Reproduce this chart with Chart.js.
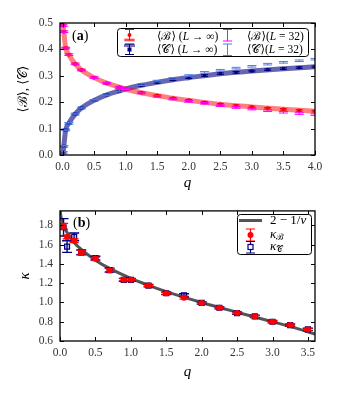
<!DOCTYPE html>
<html>
<head>
<meta charset="utf-8">
<script src="https://cdn.jsdelivr.net/npm/chart.js@4.4.1/dist/chart.umd.min.js"></script>
<style>
html, body { margin: 0; padding: 0; background: #fff; }
#wrap { position: relative; width: 341px; height: 395px; }
#chartA { position: absolute; left: 0; top: 0; }
#chartB { position: absolute; left: 0; top: 197px; }
</style>
</head>
<body>
<div id="wrap">
  <canvas id="chartA" width="341" height="197"></canvas>
  <canvas id="chartB" width="341" height="198"></canvas>
</div>
<script>
const SERIF = "'Liberation Serif', 'DejaVu Serif', serif";

// panel (a): mean values of B and C vs q
const qA = [0.01, 0.02, 0.05, 0.1, 0.2, 0.3, 0.5, 0.7, 0.9, 1.0, 1.25, 1.5, 1.75, 2.0, 2.25, 2.5, 2.75, 3.0, 3.25, 3.5, 3.75, 4.0];
const bInf = [0.490, 0.467, 0.405, 0.380, 0.345, 0.322, 0.293, 0.272, 0.257, 0.250, 0.236, 0.225, 0.215, 0.207, 0.199, 0.192, 0.187, 0.182, 0.177, 0.173, 0.169, 0.166];
const cInf = [0.010, 0.033, 0.095, 0.120, 0.155, 0.178, 0.207, 0.228, 0.243, 0.250, 0.264, 0.275, 0.285, 0.293, 0.301, 0.308, 0.313, 0.318, 0.323, 0.327, 0.331, 0.334];
const b32 = [0.490, 0.467, 0.405, 0.380, 0.345, 0.322, 0.293, 0.272, 0.256, 0.249, 0.235, 0.222, 0.212, 0.203, 0.196, 0.187, 0.180, 0.174, 0.168, 0.162, 0.157, 0.153];
const c32 = [0.010, 0.033, 0.095, 0.120, 0.155, 0.178, 0.207, 0.228, 0.244, 0.251, 0.266, 0.280, 0.290, 0.301, 0.313, 0.321, 0.329, 0.336, 0.344, 0.351, 0.357, 0.363];
const errInf = 0.003;
const err32 = 0.003;
// thick curves (L -> inf)
const qCurve = [0, 0.01, 0.02, 0.05, 0.1, 0.2, 0.3, 0.5, 0.7, 0.9, 1.0, 1.25, 1.5, 1.75, 2.0, 2.5, 3.0, 3.5, 4.0];
const bCurve = [0.500, 0.490, 0.467, 0.405, 0.380, 0.345, 0.322, 0.293, 0.272, 0.257, 0.250, 0.236, 0.225, 0.215, 0.207, 0.192, 0.182, 0.173, 0.166];
const cCurve = [0.000, 0.010, 0.033, 0.095, 0.120, 0.155, 0.178, 0.207, 0.228, 0.243, 0.250, 0.264, 0.275, 0.285, 0.293, 0.308, 0.318, 0.327, 0.334];
const xTicksA = [0, 0.5, 1, 1.5, 2, 2.5, 3, 3.5, 4];
const yTicksA = [0, 0.1, 0.2, 0.3, 0.4, 0.5];

// panel (b): kappa vs q
const qB = [0.05, 0.1, 0.2, 0.3, 0.5, 0.7, 0.9, 1.0, 1.25, 1.5, 1.75, 2.0, 2.25, 2.5, 2.75, 3.0, 3.25, 3.5];
const kB = [1.79, 1.68, 1.64, 1.52, 1.455, 1.335, 1.235, 1.235, 1.175, 1.095, 1.05, 0.995, 0.945, 0.89, 0.855, 0.80, 0.765, 0.72];
const kBerr = [0.03, 0.02, 0.02, 0.02, 0.015, 0.015, 0.012, 0.012, 0.01, 0.01, 0.015, 0.01, 0.01, 0.01, 0.01, 0.01, 0.01, 0.01];
const kC = [1.78, 1.58, 1.68, 1.52, 1.46, 1.335, 1.235, 1.235, 1.175, 1.095, 1.075, 0.995, 0.945, 0.89, 0.855, 0.80, 0.765, 0.72];
const kCerr = [0.09, 0.06, 0.04, 0.025, 0.02, 0.02, 0.015, 0.015, 0.012, 0.012, 0.015, 0.012, 0.012, 0.012, 0.012, 0.012, 0.012, 0.012];
const qNu = [0, 0.005, 0.01, 0.02, 0.05, 0.1, 0.2, 0.3, 0.5, 0.7, 1.0, 1.25, 1.5, 2.0, 2.5, 3.0, 3.5, 3.6];
const kNu = [2.0, 1.934, 1.907, 1.871, 1.800, 1.725, 1.623, 1.550, 1.439, 1.353, 1.25, 1.178, 1.113, 1.0, 0.898, 0.80, 0.696, 0.671];
const xTicksB = [0, 0.5, 1, 1.5, 2, 2.5, 3, 3.5];
const yTicksB = [0.6, 0.8, 1.0, 1.2, 1.4, 1.6, 1.8];

const pts = (xs, ys) => xs.map((x, i) => ({ x: x, y: ys[i] }));

// text made of pieces in different fonts: [text, font, dy]
function drawRich(ctx, parts, x, y, align) {
    let w = 0;
    parts.forEach(p => { ctx.font = p[1]; w += ctx.measureText(p[0]).width; });
    let cx = align === 'center' ? x - w / 2 : (align === 'right' ? x - w : x);
    ctx.textAlign = 'left';
    ctx.textBaseline = 'middle';
    parts.forEach(p => {
        ctx.font = p[1];
        ctx.fillText(p[0], cx, y + (p[2] || 0));
        cx += ctx.measureText(p[0]).width;
    });
}

function errGlyph(ctx, x, y0, y1, cap, color, lw) {
    ctx.strokeStyle = color;
    ctx.lineWidth = lw || 1;
    ctx.beginPath();
    ctx.moveTo(x, y0); ctx.lineTo(x, y1);
    ctx.moveTo(x - cap, y0); ctx.lineTo(x + cap, y0);
    ctx.moveTo(x - cap, y1); ctx.lineTo(x + cap, y1);
    ctx.stroke();
}

const framePlugin = {
    id: 'frame',
    beforeDatasetDraw(chart, args) {
        const ds = chart.data.datasets[args.index];
        if (!ds.errs) return;
        const ctx = chart.ctx, a = chart.chartArea;
        const xs = chart.scales.x, ys = chart.scales.y;
        ctx.save();
        ctx.beginPath();
        ctx.rect(a.left, a.top, a.right - a.left, a.bottom - a.top);
        ctx.clip();
        ds.data.forEach((p, i) => {
            const px = xs.getPixelForValue(p.x);
            errGlyph(ctx, px, ys.getPixelForValue(p.y - ds.errs[i]), ys.getPixelForValue(p.y + ds.errs[i]),
                ds.capW, ds.errColor, ds.errWidth);
        });
        ctx.restore();
    },
    afterDraw(chart, args, opts) {
        const ctx = chart.ctx, a = chart.chartArea;
        ctx.save();
        // inward ticks on all four sides
        ctx.strokeStyle = '#000';
        ctx.lineWidth = 1;
        ctx.beginPath();
        chart.scales.x.ticks.forEach(t => {
            const px = Math.round(chart.scales.x.getPixelForValue(t.value)) + 0.5;
            ctx.moveTo(px, a.bottom); ctx.lineTo(px, a.bottom - 4);
            ctx.moveTo(px, a.top); ctx.lineTo(px, a.top + 4);
        });
        chart.scales.y.ticks.forEach(t => {
            const py = Math.round(chart.scales.y.getPixelForValue(t.value)) + 0.5;
            ctx.moveTo(a.left, py); ctx.lineTo(a.left + 4, py);
            ctx.moveTo(a.right, py); ctx.lineTo(a.right - 4, py);
        });
        ctx.stroke();
        ctx.lineWidth = 1.3;
        ctx.strokeRect(a.left, a.top, a.right - a.left, a.bottom - a.top);
        ctx.fillStyle = '#000';
        if (opts.extra) opts.extra(ctx, a);
        ctx.restore();
    }
};

function axisOpts(min, max, tickVals, dec, side) {
    return {
        type: 'linear',
        min: min,
        max: max,
        grid: { display: false, drawTicks: false },
        border: { display: false },
        afterBuildTicks: s => { s.ticks = tickVals.map(v => ({ value: v })); },
        afterFit: s => { if (side === 'y') s.width = 60; },
        ticks: {
            color: '#333',
            font: { family: SERIF, size: 11.5 },
            padding: side === 'y' ? 7 : 5,
            callback: v => v.toFixed(dec)
        }
    };
}

// ---------- panel (a) ----------
const ctxA = document.getElementById('chartA').getContext('2d');
const optA = {
    responsive: false,
    animation: false,
    layout: { padding: { left: 0, right: 26, top: 23, bottom: 0 } },
    plugins: {
        legend: { display: false },
        tooltip: { enabled: false },
        frame: {
            extra: (ctx, a) => {
                // axis titles
                drawRich(ctx, [['q', 'italic 15px ' + SERIF]], (a.left + a.right) / 2, 183, 'center');
                ctx.save();
                ctx.translate(24, (a.top + a.bottom) / 2);
                ctx.rotate(-Math.PI / 2);
                drawRich(ctx, [['\u27E8', '13px ' + SERIF], ['\u212C', '13px ' + SERIF], ['\u27E9, \u27E8', '13px ' + SERIF],
                    ['\uD835\uDC9E', '13px ' + SERIF], ['\u27E9', '13px ' + SERIF]], 0, 0, 'center');
                ctx.restore();
                // panel label
                drawRich(ctx, [['(', '14px ' + SERIF], ['a', 'bold 14px ' + SERIF], [')', '14px ' + SERIF]], 72, 36, 'left');
                // legend
                ctx.fillStyle = '#fff';
                ctx.strokeStyle = '#000';
                ctx.lineWidth = 1;
                ctx.beginPath();
                ctx.roundRect(117.5, 28.5, 191, 28, 3);
                ctx.fill();
                ctx.stroke();
                ctx.fillStyle = 'rgba(255,0,0,0.45)';
                ctx.fillRect(124, 38.5, 11, 3);
                errGlyph(ctx, 129.5, 29.5, 40, 4.5, '#ff0000', 1);
                ctx.fillStyle = '#ff0000';
                ctx.beginPath(); ctx.arc(129.5, 35, 2, 0, Math.PI * 2); ctx.fill();
                ctx.fillStyle = 'rgba(0,0,128,0.55)';
                ctx.fillRect(124, 44, 11, 3);
                errGlyph(ctx, 129.5, 44, 54.5, 4.5, '#000080', 1);
                ctx.fillStyle = '#000080';
                ctx.fillRect(127.5, 47.5, 4, 4);
                errGlyph(ctx, 227.5, 29.5, 41, 4.5, '#ff00ff', 1);
                errGlyph(ctx, 227.5, 44, 55.5, 4.5, '#4f7fe8', 1);
                ctx.fillStyle = '#000';
                const f = '11.5px ' + SERIF, fi = 'italic 11.5px ' + SERIF;
                drawRich(ctx, [['\u27E8', f], ['\u212C', f], ['\u27E9 (', f], ['L', fi], [' \u2192 \u221E)', f]], 157, 37, 'left');
                drawRich(ctx, [['\u27E8', f], ['\uD835\uDC9E', f], ['\u27E9 (', f], ['L', fi], [' \u2192 \u221E)', f]], 157, 49.5, 'left');
                drawRich(ctx, [['\u27E8', f], ['\u212C', f], ['\u27E9(', f], ['L', fi], [' = 32)', f]], 247, 37, 'left');
                drawRich(ctx, [['\u27E8', f], ['\uD835\uDC9E', f], ['\u27E9(', f], ['L', fi], [' = 32)', f]], 247, 49.5, 'left');
            }
        }
    },
    scales: {
        x: Object.assign(axisOpts(-0.04, 4.0, xTicksA, 1, 'x'), { afterFit: s => { s.height = 42; } }),
        y: axisOpts(0, 0.5, yTicksA, 1, 'y')
    }
};

new Chart(ctxA, {
    type: 'scatter',
    data: {
        datasets: [
            { data: pts(qA, b32), pointStyle: 'line', pointRadius: 0, errs: qA.map(() => err32), capW: 4.5, errColor: '#ff00ff', errWidth: 1 },
            { data: pts(qA, c32), pointStyle: 'line', pointRadius: 0, errs: qA.map(() => err32), capW: 4.5, errColor: '#4f7fe8', errWidth: 1 },
            { data: pts(qA, bInf), pointStyle: 'circle', pointRadius: 2, backgroundColor: '#ff0000', borderWidth: 0,
              errs: qA.map(() => errInf), capW: 3.5, errColor: '#ff0000', errWidth: 1 },
            { data: pts(qA, cInf), pointStyle: 'rect', pointRadius: 2.2, backgroundColor: '#000080', borderWidth: 0,
              errs: qA.map(() => errInf), capW: 3.5, errColor: '#000080', errWidth: 1 },
            { data: pts(qCurve, bCurve), showLine: true, pointRadius: 0, borderColor: 'rgba(255,0,0,0.5)', borderWidth: 5,
              cubicInterpolationMode: 'monotone', clip: 0 },
            { data: pts(qCurve, cCurve), showLine: true, pointRadius: 0, borderColor: 'rgba(0,0,128,0.6)', borderWidth: 5,
              cubicInterpolationMode: 'monotone', clip: 0 }
        ]
    },
    options: optA,
    plugins: [framePlugin]
});

// ---------- panel (b) ----------
const ctxB = document.getElementById('chartB').getContext('2d');
const optB = {
    responsive: false,
    animation: false,
    layout: { padding: { left: 0, right: 26, top: 11, bottom: 0 } },
    plugins: {
        legend: { display: false },
        tooltip: { enabled: false },
        frame: {
            extra: (ctx, a) => {
                drawRich(ctx, [['q', 'italic 15px ' + SERIF]], (a.left + a.right) / 2, 175, 'center');
                ctx.save();
                ctx.translate(25, (a.top + a.bottom) / 2);
                ctx.rotate(-Math.PI / 2);
                drawRich(ctx, [['\u03BA', 'italic 15px ' + SERIF]], 0, 0, 'center');
                ctx.restore();
                drawRich(ctx, [['(', '14px ' + SERIF], ['b', 'bold 14px ' + SERIF], [')', '14px ' + SERIF]], 73, 26, 'left');
                // legend
                ctx.fillStyle = '#fff';
                ctx.strokeStyle = '#000';
                ctx.lineWidth = 1;
                ctx.beginPath();
                ctx.roundRect(237.5, 17.5, 74, 40, 3);
                ctx.fill();
                ctx.stroke();
                ctx.strokeStyle = '#555';
                ctx.lineWidth = 3;
                ctx.beginPath(); ctx.moveTo(239, 23.5); ctx.lineTo(262, 23.5); ctx.stroke();
                errGlyph(ctx, 250.5, 32, 44, 4.5, '#ff0000', 1.2);
                ctx.fillStyle = '#ff0000';
                ctx.beginPath(); ctx.arc(250.5, 38, 3, 0, Math.PI * 2); ctx.fill();
                errGlyph(ctx, 250.5, 44.5, 56, 4.5, '#000080', 1.2);
                ctx.fillStyle = '#fff';
                ctx.fillRect(248, 47.5, 5, 5);
                ctx.strokeStyle = '#000080';
                ctx.lineWidth = 1.2;
                ctx.strokeRect(248, 47.5, 5, 5);
                ctx.fillStyle = '#000';
                const f = '13px ' + SERIF, fi = 'italic 13px ' + SERIF;
                drawRich(ctx, [['2 \u2212 1/', f], ['\u03BD', fi]], 270, 23.5, 'left');
                drawRich(ctx, [['\u03BA', fi], ['\u212C', '9px ' + SERIF, 3]], 270, 37.5, 'left');
                drawRich(ctx, [['\u03BA', fi], ['\uD835\uDC9E', '9px ' + SERIF, 3]], 270, 50, 'left');
            }
        }
    },
    scales: {
        x: Object.assign(axisOpts(0, 3.6, xTicksB, 1, 'x'), { afterFit: s => { s.height = 54; } }),
        y: axisOpts(0.6, 1.95, yTicksB, 1, 'y')
    }
};

new Chart(ctxB, {
    type: 'scatter',
    data: {
        datasets: [
            { data: pts(qB, kB), pointStyle: 'circle', pointRadius: 3, backgroundColor: '#ff0000', borderWidth: 0,
              errs: kBerr, capW: 4.5, errColor: '#ff0000', errWidth: 1.2 },
            { data: pts(qB, kC), pointStyle: 'rect', pointRadius: 3.5, backgroundColor: 'rgba(70,70,210,0.35)', borderColor: '#000080', borderWidth: 1.2,
              errs: kCerr, capW: 5, errColor: '#000080', errWidth: 1.4 },
            { data: pts(qNu, kNu), showLine: true, pointRadius: 0, borderColor: '#555555', borderWidth: 3,
              cubicInterpolationMode: 'monotone', clip: 0 }
        ]
    },
    options: optB,
    plugins: [framePlugin]
});
</script>
</body>
</html>
